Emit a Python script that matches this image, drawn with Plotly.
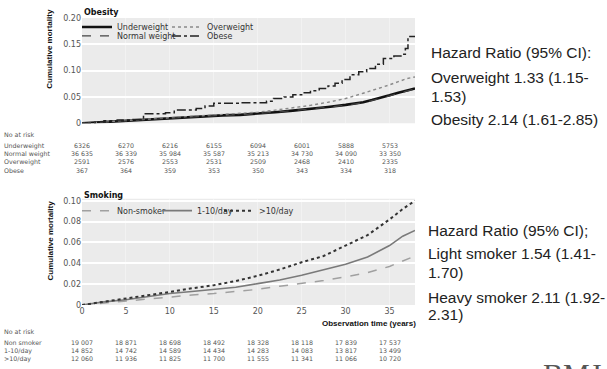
import plotly.graph_objects as go

# ---------------- data ----------------
# Obesity panel (cumulative mortality vs observation time, years)
t_bmi = [0, 2, 4, 6, 8, 10, 12, 14, 16, 18, 20, 22, 24, 26, 28, 30, 32, 33, 34, 35, 36, 37, 37.9]
underweight = [0, 0.002, 0.004, 0.005, 0.007, 0.009, 0.011, 0.013, 0.015, 0.016, 0.018, 0.021, 0.024, 0.027, 0.031, 0.035, 0.040, 0.044, 0.048, 0.053, 0.058, 0.062, 0.066]
normal_weight = [0, 0.002, 0.004, 0.005, 0.007, 0.009, 0.011, 0.013, 0.015, 0.016, 0.018, 0.021, 0.024, 0.027, 0.030, 0.034, 0.039, 0.043, 0.047, 0.052, 0.057, 0.061, 0.065]
overweight = [0, 0.002, 0.004, 0.006, 0.008, 0.010, 0.012, 0.014, 0.016, 0.018, 0.021, 0.025, 0.029, 0.034, 0.040, 0.047, 0.057, 0.062, 0.067, 0.073, 0.079, 0.085, 0.088]
t_obese = [0, 1.5, 2.5, 4, 5.5, 7, 9.5, 10.5, 13, 14, 15, 18, 21, 21.8, 23, 24, 25, 26, 27, 28, 28.8, 29.6, 30.5, 31.5, 32.4, 33.4, 34.3, 35.5, 36.3, 36.8, 37.1, 37.9]
obese = [0, 0.003, 0.005, 0.006, 0.007, 0.018, 0.020, 0.025, 0.028, 0.033, 0.038, 0.039, 0.042, 0.047, 0.050, 0.054, 0.058, 0.062, 0.066, 0.071, 0.076, 0.083, 0.092, 0.098, 0.104, 0.112, 0.123, 0.128, 0.131, 0.142, 0.165, 0.165]

# Smoking panel
t_smk = [0, 2.5, 5, 7.5, 10, 12.5, 15, 17.5, 20, 22.5, 25, 27.5, 30, 32.5, 35, 36.5, 37.9]
non_smoker = [0, 0.002, 0.004, 0.006, 0.008, 0.0095, 0.011, 0.013, 0.015, 0.018, 0.0205, 0.0235, 0.027, 0.031, 0.037, 0.042, 0.047]
light_smoker = [0, 0.003, 0.005, 0.008, 0.011, 0.013, 0.015, 0.017, 0.0205, 0.024, 0.0285, 0.034, 0.039, 0.046, 0.057, 0.066, 0.0715]
heavy_smoker = [0, 0.003, 0.006, 0.009, 0.0125, 0.016, 0.019, 0.023, 0.028, 0.034, 0.041, 0.047, 0.057, 0.067, 0.082, 0.092, 0.100]

# Numbers at risk
risk_times = [0, 5, 10, 15, 20, 25, 30, 35]
risk_bmi = {
    "Underweight": [6326, 6270, 6216, 6155, 6094, 6001, 5888, 5753],
    "Normal weight": [36635, 36339, 35984, 35587, 35213, 34730, 34090, 33350],
    "Overweight": [2591, 2576, 2553, 2531, 2509, 2468, 2410, 2335],
    "Obese": [367, 364, 359, 353, 350, 343, 334, 318],
}
risk_smk = {
    "Non smoker": [19007, 18871, 18698, 18492, 18328, 18118, 17839, 17537],
    "1-10/day": [14852, 14742, 14589, 14434, 14283, 14083, 13817, 13499],
    ">10/day": [12060, 11936, 11825, 11700, 11555, 11341, 11066, 10720],
}

y1_ticks = [0, 0.05, 0.10, 0.15, 0.20]
y1_labels = ["0", "0.05", "0.10", "0.15", "0.20"]
y2_ticks = [0, 0.02, 0.04, 0.06, 0.08, 0.10]
y2_labels = ["0", "0.02", "0.04", "0.06", "0.08", "0.10"]
x_ticks = [0, 5, 10, 15, 20, 25, 30, 35]

hr_obesity = ["Hazard Ratio (95% CI):", "Overweight 1.33 (1.15-", "1.53)", "Obesity 2.14 (1.61-2.85)"]
hr_smoking = ["Hazard Ratio (95% CI);", "Light smoker 1.54 (1.41-", "1.70)", "Heavy smoker 2.11 (1.92-", "2.31)"]

# ---------------- layout helpers ----------------
W, H = 607, 369
ML, MR, MT, MB = 82, 192, 16, 64
PW, PH = W - ML - MR, H - MT - MB


def px(x):
    return (x - ML) / PW


def py(y):
    return (H - MB - y) / PH


def fmt(n):
    return f"{n:,}".replace(",", " ") if n >= 10000 else str(n)


fig = go.Figure()

top_series = [
    ("Underweight", t_bmi, underweight, dict(color="#111111", width=2.6, dash="solid"), "legend", 0),
    ("Overweight", t_bmi, overweight, dict(color="#8a8a8a", width=1.4, dash="dot"), "legend2", 0),
    ("Normal weight", t_bmi, normal_weight, dict(color="#444444", width=1.2, dash="dash"), "legend3", 0),
    ("Obese", t_obese, obese, dict(color="#222222", width=1.5, dash="dashdot"), "legend4", 1),
]
for name, tx, vy, ln, lg, step in top_series:
    fig.add_trace(go.Scatter(x=tx, y=vy, name=name, mode="lines", line=dict(shape="hv" if step else "linear", **ln),
                             xaxis="x", yaxis="y", legend=lg))

bot_series = [
    ("Non-smoker", non_smoker, dict(color="#a0a0a0", width=1.5, dash="dash"), "legend5"),
    ("1-10/day", light_smoker, dict(color="#7a7a7a", width=1.6, dash="solid"), "legend6"),
    (">10/day", heavy_smoker, dict(color="#333333", width=2.0, dash="dot"), "legend7"),
]
for name, vy, ln, lg in bot_series:
    fig.add_trace(go.Scatter(x=t_smk, y=vy, name=name, mode="lines", line=ln,
                             xaxis="x2", yaxis="y2", legend=lg))

legend_font = dict(family="DejaVu Sans", size=8, color="#333333")
legend_pos = {
    "legend": (115, 25), "legend2": (205, 25), "legend3": (115, 34), "legend4": (205, 34),
    "legend5": (115, 210), "legend6": (195, 210), "legend7": (257, 210),
}
leg_layout = {}
for key, (tx, ty) in legend_pos.items():
    leg_layout[key] = dict(x=px(tx - 38), y=py(ty), xanchor="left", yanchor="middle",
                           bgcolor="rgba(0,0,0,0)", font=legend_font, borderwidth=0)

tick_font = dict(family="DejaVu Sans", size=8, color="#555555")
bg = "#ebebeb"

annotations = []
# panel titles
annotations.append(dict(text="<b>Obesity</b>", x=px(82), y=py(10), xref="paper", yref="paper",
                        xanchor="left", yanchor="middle", showarrow=False,
                        font=dict(family="DejaVu Sans", size=8, color="#111")))
annotations.append(dict(text="<b>Smoking</b>", x=px(82), y=py(195), xref="paper", yref="paper",
                        xanchor="left", yanchor="middle", showarrow=False,
                        font=dict(family="DejaVu Sans", size=8, color="#111")))
# y axis titles
for cy in (47, 240):
    annotations.append(dict(text="<b>Cumulative mortality</b>", x=px(50), y=py(cy), xref="paper", yref="paper",
                            xanchor="center", yanchor="middle", showarrow=False, textangle=-90,
                            font=dict(family="Liberation Sans Narrow, Liberation Sans", size=8, color="#111")))
# x axis title
annotations.append(dict(text="<b>Observation time (years)</b>", x=px(418), y=py(324), xref="paper", yref="paper",
                        xanchor="right", yanchor="middle", showarrow=False,
                        font=dict(family="Liberation Sans", size=8, color="#111")))

table_font = dict(family="DejaVu Sans", size=6.3, color="#555555")


def add_table(rows, y_head, y_first, xref):
    # one multi-line text per column keeps rows tight (line height = 1.3 em)
    n = len(rows)
    line_h = table_font["size"] * 1.3
    y_mid = y_first + (n - 1) * line_h / 2
    annotations.append(dict(text="No at risk", x=px(2), y=py(y_head), xref="paper", yref="paper",
                            xanchor="left", yanchor="middle", showarrow=False, font=table_font))
    annotations.append(dict(text="<br>".join(rows.keys()), x=px(2), y=py(y_mid), xref="paper", yref="paper",
                            xanchor="left", yanchor="middle", align="left", showarrow=False, font=table_font))
    for i, t in enumerate(risk_times):
        col = "<br>".join(fmt(vals[i]) for vals in rows.values())
        annotations.append(dict(text=col, x=t, y=py(y_mid), xref=xref, yref="paper",
                                xanchor="center", yanchor="middle", align="center", showarrow=False,
                                font=table_font))


add_table(risk_bmi, 133, 145, "x")
add_table(risk_smk, 332, 343, "x2")

hr_font = dict(family="Liberation Sans", size=15.5, color="#222222")
for txt, yy in zip(hr_obesity, [51, 76, 95, 118]):
    annotations.append(dict(text=txt, x=px(429), y=py(yy), xref="paper", yref="paper",
                            xanchor="left", yanchor="middle", showarrow=False, font=hr_font))
for txt, yy in zip(hr_smoking, [230, 253, 272, 297, 315]):
    annotations.append(dict(text=txt, x=px(426), y=py(yy), xref="paper", yref="paper",
                            xanchor="left", yanchor="middle", showarrow=False, font=hr_font))

# publisher mark (partially cut at the bottom edge)
annotations.append(dict(text="BMJ", x=px(541), y=py(355), xref="paper", yref="paper",
                        xanchor="left", yanchor="top", showarrow=False,
                        font=dict(family="Liberation Serif", size=30, color="#555555")))

xrange = [0, 37.9]
fig.update_layout(
    width=W, height=H,
    margin=dict(l=ML, r=MR, t=MT, b=MB, pad=0),
    paper_bgcolor="white", plot_bgcolor=bg,
    showlegend=True,
    xaxis=dict(domain=[0, 1], range=xrange, anchor="y", tickvals=x_ticks, showticklabels=False,
               showgrid=True, gridcolor="#f2f2f2", gridwidth=1, zeroline=False, showline=False, ticks=""),
    yaxis=dict(domain=[py(122), 1], range=[0, 0.2], tickvals=y1_ticks, ticktext=y1_labels,
               showgrid=True, gridcolor="white", gridwidth=1.5, zeroline=False, ticks="",
               tickfont=tick_font, anchor="x"),
    xaxis2=dict(domain=[0, 1], range=xrange, anchor="y2", tickvals=x_ticks, ticktext=[str(v) for v in x_ticks],
                showgrid=True, gridcolor="#f2f2f2", gridwidth=1, zeroline=False, showline=False, ticks="",
                tickfont=tick_font),
    yaxis2=dict(domain=[0, py(198)], range=[0, 0.1019], tickvals=y2_ticks, ticktext=y2_labels,
                showgrid=True, gridcolor="white", gridwidth=1.5, zeroline=False, ticks="",
                tickfont=tick_font, anchor="x2"),
    annotations=annotations,
    **leg_layout,
)

fig.write_html("out.html", config={"displayModeBar": False},
               post_script="document.body.style.margin='0'; document.body.style.overflow='hidden';")
